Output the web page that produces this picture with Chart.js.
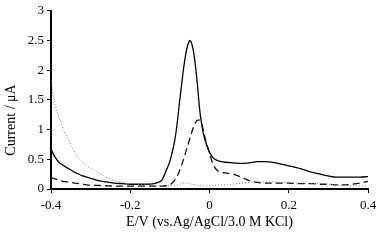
<!DOCTYPE html>
<html>
<head>
<meta charset="utf-8">
<script src="https://cdn.jsdelivr.net/npm/chart.js@4"></script>
<style>
  html, body { margin: 0; padding: 0; background: #fff; }
  #wrap { width: 384px; height: 240px; }
</style>
</head>
<body>
<div id="wrap"><canvas id="cv"></canvas></div>
<script>
// potential (V)
const potential = [
  -0.4, -0.395, -0.39, -0.385, -0.38, -0.37, -0.36, -0.35, -0.34, -0.33, -0.32, -0.31, -0.3,
  -0.28, -0.26, -0.24, -0.22, -0.2, -0.18, -0.16, -0.14, -0.13, -0.12, -0.11, -0.1,
  -0.09, -0.085, -0.08, -0.075, -0.07, -0.065, -0.06, -0.055, -0.05, -0.045, -0.04, -0.035,
  -0.03, -0.025, -0.02, -0.015, -0.01, -0.005, 0,
  0.01, 0.02, 0.03,
  0.04, 0.06, 0.08, 0.1, 0.12, 0.14, 0.16, 0.18, 0.2, 0.22, 0.24, 0.26, 0.28, 0.3, 0.32, 0.34, 0.36, 0.38, 0.4];

// current (uA) per curve
const solidCurve = [
  0.68, 0.6, 0.54, 0.49, 0.45, 0.4, 0.36, 0.32, 0.28, 0.25, 0.22, 0.2, 0.18,
  0.14, 0.12, 0.1, 0.09, 0.08, 0.08, 0.08, 0.09, 0.11, 0.15, 0.3, 0.47,
  0.74, 0.93, 1.2, 1.5, 1.78, 2.05, 2.27, 2.42, 2.5, 2.45, 2.3, 2.05,
  1.72, 1.35, 1.1, 0.92, 0.8, 0.7, 0.62,
  0.52, 0.48, 0.46,
  0.45, 0.44, 0.43, 0.44, 0.46, 0.46, 0.45, 0.42, 0.39, 0.36, 0.32, 0.28, 0.25, 0.22, 0.2, 0.2, 0.2, 0.2, 0.21];
const dashedCurve = [
  0.2, 0.18, 0.17, 0.16, 0.15, 0.13, 0.12, 0.11, 0.1, 0.09, 0.08, 0.07, 0.065,
  0.06, 0.055, 0.05, 0.05, 0.05, 0.05, 0.05, 0.05, 0.05, 0.05, 0.055, 0.07,
  0.13, 0.18, 0.24, 0.32, 0.41, 0.51, 0.62, 0.73, 0.84, 0.95, 1.05, 1.12,
  1.16, 1.16, 1.1, 0.98, 0.83, 0.72, 0.6,
  0.4, 0.31, 0.28,
  0.27, 0.25, 0.2, 0.14, 0.11, 0.1, 0.1, 0.1, 0.1, 0.09, 0.09, 0.09, 0.08, 0.08, 0.07, 0.07, 0.08, 0.1, 0.13];
const dottedCurve = [
  1.88, 1.6, 1.42, 1.3, 1.2, 1.03, 0.88, 0.75, 0.62, 0.52, 0.45, 0.39, 0.35,
  0.27, 0.2, 0.14, 0.11, 0.09, 0.08, 0.07, 0.06, 0.06, 0.05, 0.05, 0.05,
  0.06, 0.07, 0.07, 0.08, 0.09, 0.1, 0.1, 0.1, 0.09, 0.08, 0.07, 0.07,
  0.06, 0.06, 0.05, 0.05, 0.05, 0.05, 0.05,
  0.06, 0.06, 0.07,
  0.07, 0.08, 0.1, 0.11, 0.12, 0.12, 0.12, 0.11, 0.11, 0.1, 0.1, 0.09, 0.09, 0.08, 0.07, 0.06, 0.06, 0.05, 0.05];

const xTicks = [-0.4, -0.2, 0, 0.2, 0.4];
const yTicks = [0, 0.5, 1, 1.5, 2, 2.5, 3];
const yTitle = 'Current / μA';
const xTitle = 'E/V (vs.Ag/AgCl/3.0 M KCl)';

const toPoints = ys => potential.map((x, i) => ({ x: x, y: ys[i] }));
const serif = "'Liberation Serif', 'Times New Roman', serif";

const lineStyle = {
  pointRadius: 0,
  fill: false,
  cubicInterpolationMode: 'monotone'
};

// y title drawn by hand so it can sit a bit lower, like the original
const yTitlePlugin = {
  id: 'yTitle',
  afterDraw(chart) {
    const ctx = chart.ctx;
    ctx.save();
    ctx.translate(11, 120);
    ctx.rotate(-Math.PI / 2);
    ctx.font = '14px ' + serif;
    ctx.fillStyle = '#000';
    ctx.textAlign = 'center';
    ctx.textBaseline = 'middle';
    ctx.fillText(yTitle, 0, 0);
    ctx.restore();
  }
};

new Chart(document.getElementById('cv'), {
  type: 'line',
  data: {
    datasets: [
      { ...lineStyle, data: toPoints(dottedCurve), borderColor: '#777', borderWidth: 1, borderDash: [1, 2] },
      { ...lineStyle, data: toPoints(dashedCurve), borderColor: '#111', borderWidth: 1.3, borderDash: [7, 4] },
      { ...lineStyle, data: toPoints(solidCurve), borderColor: '#000', borderWidth: 1.3 }
    ]
  },
  options: {
    responsive: true,
    maintainAspectRatio: false,
    animation: false,
    layout: { padding: { top: 10, right: 16, bottom: 9, left: 0 } },
    plugins: { legend: { display: false }, tooltip: { enabled: false } },
    scales: {
      x: {
        type: 'linear',
        min: -0.4,
        max: 0.4,
        afterBuildTicks: axis => { axis.ticks = xTicks.map(v => ({ value: v })); },
        afterFit: axis => { axis.height = 42; },
        border: { color: '#000', width: 2 },
        grid: { drawOnChartArea: false, color: '#000', tickLength: 4 },
        ticks: { color: '#000', font: { family: serif, size: 13 }, padding: 5,
          callback: v => String(v) },
        title: { display: true, text: xTitle, color: '#000',
          font: { family: serif, size: 14 }, padding: 0 }
      },
      y: {
        min: 0,
        max: 3,
        afterBuildTicks: axis => { axis.ticks = yTicks.map(v => ({ value: v })); },
        afterFit: axis => { axis.width = 51; },
        border: { color: '#000', width: 2 },
        grid: { drawOnChartArea: false, color: '#000', tickLength: 4 },
        ticks: { color: '#000', font: { family: serif, size: 13 }, padding: 3,
          callback: v => String(v) },
        title: { display: false }
      }
    }
  },
  plugins: [yTitlePlugin]
});
</script>
</body>
</html>
